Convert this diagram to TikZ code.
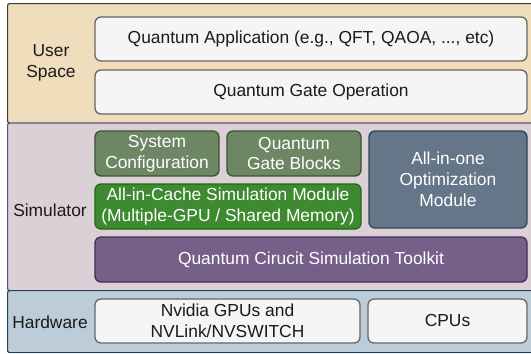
\documentclass[tikz,border=0pt]{standalone}
\usepackage{fontspec}
\setmainfont{Liberation Sans}
\definecolor{userfill}{HTML}{EFDDBB}
\definecolor{userdraw}{HTML}{3C3C3C}
\definecolor{simfill}{HTML}{DBD0D6}
\definecolor{simdraw}{HTML}{56517E}
\definecolor{hwfill}{HTML}{BCCDD9}
\definecolor{hwdraw}{HTML}{23445D}
\definecolor{wfill}{HTML}{F5F5F5}
\definecolor{wdraw}{HTML}{666666}
\definecolor{ogfill}{HTML}{6D8764}
\definecolor{ogdraw}{HTML}{3A5431}
\definecolor{gfill}{HTML}{3D8A30}
\definecolor{gdraw}{HTML}{1F6A12}
\definecolor{slfill}{HTML}{647687}
\definecolor{sldraw}{HTML}{314354}
\definecolor{pufill}{HTML}{76608A}
\definecolor{pudraw}{HTML}{432D57}
\definecolor{txt}{HTML}{1A1A1A}
\tikzset{
  layer/.style={rounded corners=2pt, line width=1.2pt},
  lbl/.style={align=center, text=txt, inner sep=0pt, font=\fontsize{17.4}{20.9}\selectfont},
  boxbase/.style={rounded corners=6pt, line width=1.3pt, align=center, inner sep=0pt,
    font=\fontsize{17.4}{20.9}\selectfont},
  wbox/.style={boxbase, fill=wfill, draw=wdraw, text=txt},
  ogbox/.style={boxbase, fill=ogfill, draw=ogdraw, text=white},
  gbox/.style={boxbase, fill=gfill, draw=gdraw, text=white},
  slbox/.style={boxbase, fill=slfill, draw=sldraw, text=white},
  pubox/.style={boxbase, fill=pufill, draw=pudraw, text=white},
}
\begin{document}
\begin{tikzpicture}[x=1pt,y=-1pt]
\useasboundingbox (0,0) rectangle (531,354);
% layers
\node[layer, fill=userfill, draw=userdraw, minimum width=540pt, minimum height=119.5pt, anchor=north west] (user) at (7,3) {};
\node[layer, fill=simfill, draw=simdraw, minimum width=540pt, minimum height=167.5pt, anchor=north west] (sim) at (7,122.5) {};
\node[layer, fill=hwfill, draw=hwdraw, minimum width=540pt, minimum height=62pt, anchor=north west] (hw) at (7,290) {};
% layer labels
\node[lbl] (userlbl) at (51,62.5) {User\\Space};
\node[lbl] (simlbl) at (50,210) {Simulator};
\node[lbl] (hwlbl) at (50,322) {Hardware};
% boxes
\node[wbox, minimum width=432pt, minimum height=44pt] (qapp) at (311,39) {Quantum Application (e.g., QFT, QAOA, ..., etc)};
\node[wbox, minimum width=432pt, minimum height=44pt] (qgate) at (311,92) {Quantum Gate Operation};
\node[ogbox, minimum width=124pt, minimum height=45pt] (syscfg) at (157,153.5) {System\\Configuration};
\node[ogbox, minimum width=134pt, minimum height=45pt] (gateblk) at (294,153.5) {Quantum\\Gate Blocks};
\node[slbox, minimum width=158pt, minimum height=97pt] (allinone) at (448,179.5) {All-in-one\\Optimization\\Module};
\node[gbox, minimum width=266pt, minimum height=45pt] (cache) at (228,206.5) {All-in-Cache Simulation Module\\(Multiple-GPU / Shared Memory)};
\node[pubox, minimum width=432pt, minimum height=45pt] (toolkit) at (311,259.5) {Quantum Cirucit Simulation Toolkit};
\node[wbox, minimum width=265pt, minimum height=44pt] (nvidia) at (227.5,321) {Nvidia GPUs and\\NVLink/NVSWITCH};
\node[wbox, minimum width=159pt, minimum height=44pt] (cpus) at (447.5,321) {CPUs};
\end{tikzpicture}
\end{document}
